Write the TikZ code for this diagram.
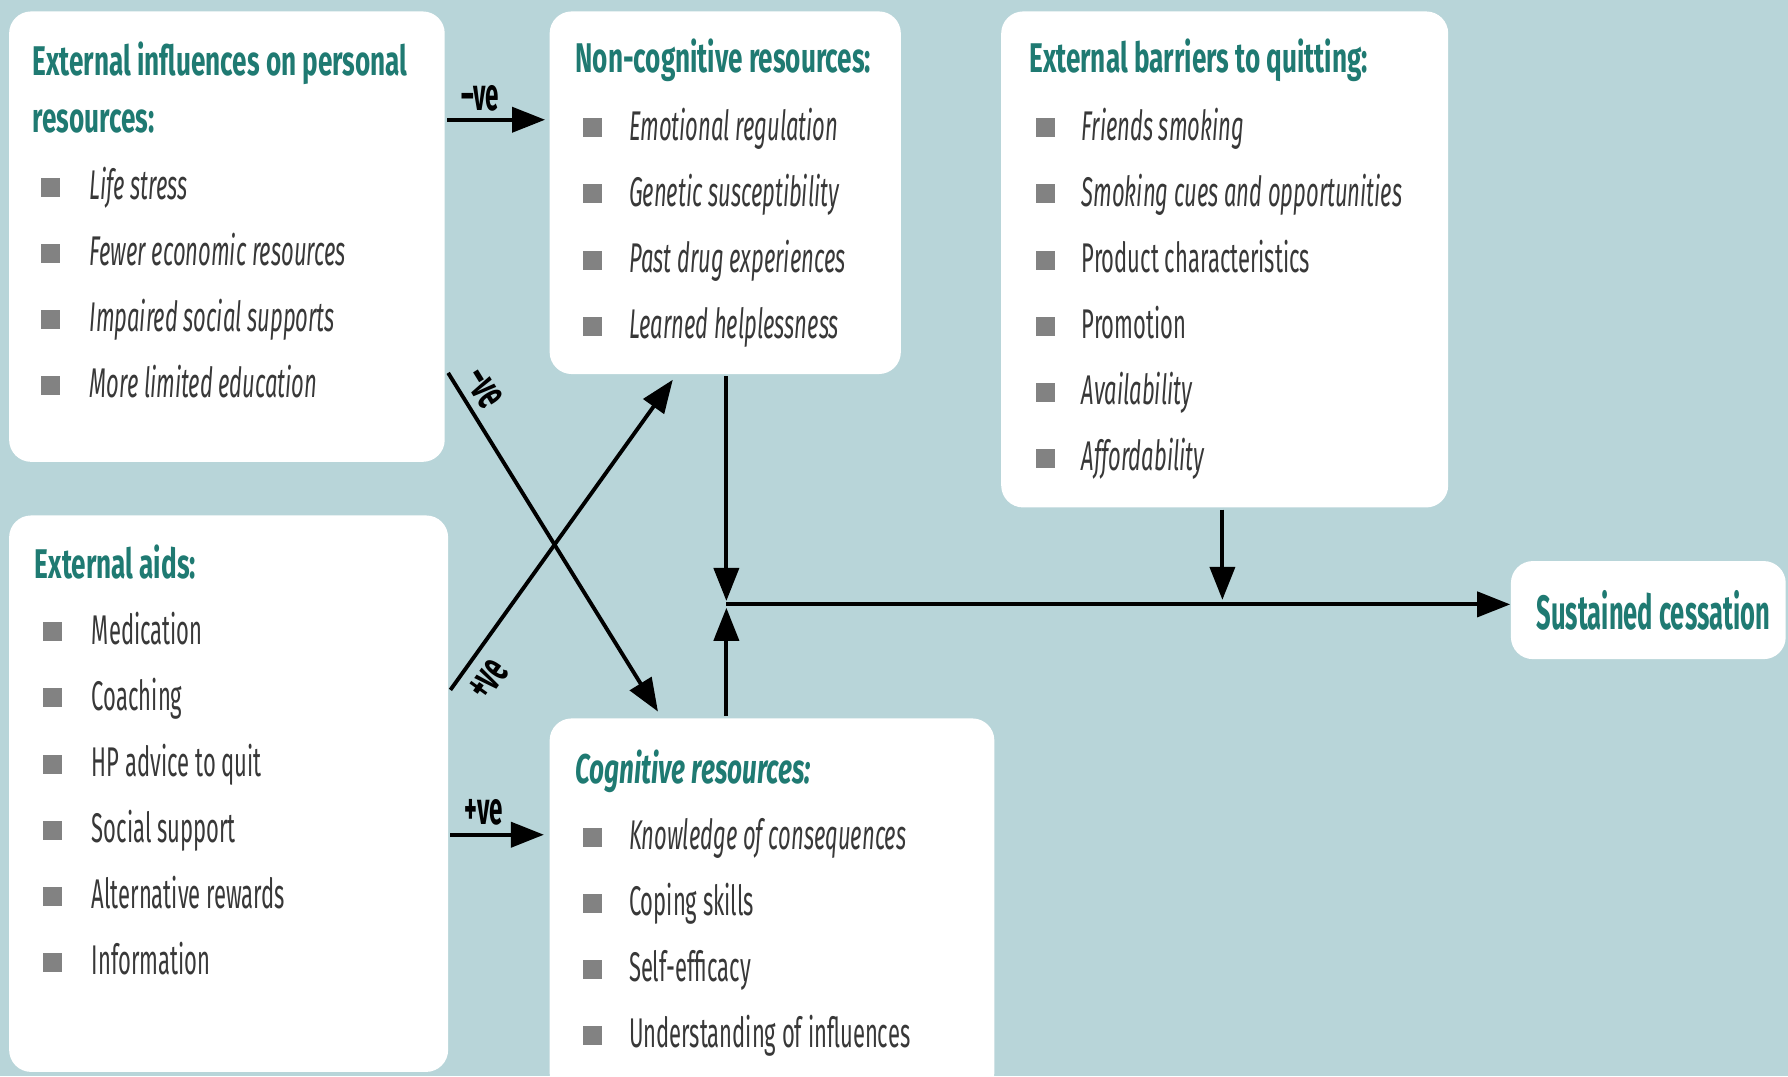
\documentclass[tikz,border=0pt]{standalone}
\usepackage{fontspec}
\setmainfont{Fira Sans}[FakeStretch=0.53]
\newfontfamily\headfont{Fira Sans}[FakeStretch=0.63]
\usetikzlibrary{arrows.meta,fit}
\definecolor{bgblue}{HTML}{B8D5D9}
\definecolor{teal}{HTML}{1F7A72}
\definecolor{bulgray}{HTML}{828282}
\definecolor{txtgray}{HTML}{383838}
\begin{document}
\begin{tikzpicture}[x=0.011403cm,y=-0.011403cm,
  panel/.style={fill=white,rounded corners=0.22cm,inner sep=0pt,draw=none},
  ttl/.style={anchor=base west,inner sep=0pt,text=teal,font=\headfont\fontsize{11.8}{14}\selectfont\bfseries},
  itm/.style={anchor=base west,inner sep=0pt,text=txtgray,font=\fontsize{11.8}{14}\selectfont},
  bul/.style={fill=bulgray,inner sep=0pt,minimum size=0.19cm,draw=none},
  lbl/.style={inner sep=0pt,font=\fontsize{13}{15}\selectfont\bfseries},
  conn/.style={line width=1.1pt,-{Triangle[length=0.33cm,width=0.25cm]}}]

% canvas
\useasboundingbox (0,0) rectangle (1568,944);
\clip (0,0) rectangle (1568,944);
\fill[bgblue] (0,0) rectangle (1568,944);

% panels
\node[panel,fit={(8,10) (390,405)}] (inf) {};
\node[panel,fit={(482,10) (790,328)}] (noncog) {};
\node[panel,fit={(878,10) (1270,445)}] (barr) {};
\node[panel,fit={(8,452) (393,940)}] (aids) {};
\node[panel,fit={(482,630) (872,960)}] (cog) {};
\node[panel,fit={(1325,492) (1566,578)}] (sust) {};

% External influences on personal resources
\node[ttl] (inf-h1) at (28,66) {External influences on personal};
\node[ttl] (inf-h2) at (28,116) {resources:};
\foreach \t [count=\i] in {Life stress,Fewer economic resources,Impaired social supports,More limited education}{
  \node[bul] (inf-b\i) at (44,{164+58*(\i-1)}) {};
  \node[itm,font=\fontsize{11.8}{14}\selectfont\itshape] (inf-t\i) at (78,{175+58*(\i-1)}) {\t};
}

% Non-cognitive resources
\node[ttl] (noncog-h) at (504,64) {Non-cognitive resources:};
\foreach \t [count=\i] in {Emotional regulation,Genetic susceptibility,Past drug experiences,Learned helplessness}{
  \node[bul] (noncog-b\i) at (520,{112+58*(\i-1)}) {};
  \node[itm,font=\fontsize{11.8}{14}\selectfont\itshape] (noncog-t\i) at (551,{123+58*(\i-1)}) {\t};
}

% External barriers to quitting
\node[ttl] (barr-h) at (902,64) {External barriers to quitting:};
\foreach \t [count=\i] in {\itshape Friends smoking,\itshape Smoking cues and opportunities,Product characteristics,Promotion,\itshape Availability,\itshape Affordability}{
  \node[bul] (barr-b\i) at (917,{112+58*(\i-1)}) {};
  \node[itm] (barr-t\i) at (948,{123+58*(\i-1)}) {\t};
}

% External aids
\node[ttl] (aids-h) at (30,507) {External aids:};
\foreach \t [count=\i] in {Medication,Coaching,HP advice to quit,Social support,Alternative rewards,Information}{
  \node[bul] (aids-b\i) at (46,{554+58*(\i-1)}) {};
  \node[itm] (aids-t\i) at (80,{565+58*(\i-1)}) {\t};
}

% Cognitive resources
\node[ttl,font=\headfont\fontsize{11.8}{14}\selectfont\bfseries\itshape] (cog-h) at (504,687) {Cognitive resources:};
\foreach \t [count=\i] in {\itshape Knowledge of consequences,Coping skills,Self-efficacy,Understanding of influences}{
  \node[bul] (cog-b\i) at (520,{734+58*(\i-1)}) {};
  \node[itm] (cog-t\i) at (551,{745+58*(\i-1)}) {\t};
}

% Outcome
\node[text=teal,inner sep=0pt,font=\fontsize{13.7}{16}\selectfont\bfseries] (sust-t) at ([xshift=0.05cm]sust.center) {Sustained cessation};

% connector end points
\coordinate (negS) at (392,105);
\coordinate (negE) at (478,105);
\coordinate (posS) at (395,732);
\coordinate (posE) at (477,732);
\coordinate (dnS) at (393,327);
\coordinate (dnE) at (577,624);
\coordinate (upS) at (395,605);
\coordinate (upE) at (590,333);
\coordinate (J) at (637,530);
\coordinate (Jt) at (637,527);
\coordinate (Jb) at (637,533);
\coordinate (ncB) at (637,330);
\coordinate (cgT) at (637,628);
\coordinate (bB) at (1072,447);
\coordinate (bJ) at (1072,526);

% connectors
\draw[conn] (negS) -- node[lbl,above=2pt,pos=0.34] {–ve} (negE);
\draw[conn] (posS) -- node[lbl,above=2pt,pos=0.36] {+ve} (posE);
\draw[conn] (dnS) -- node[lbl,above=2pt,sloped,pos=0.08] {–ve} (dnE);
\draw[conn] (upS) -- node[lbl,below=3pt,sloped,pos=0.08] {+ve} (upE);
\draw[conn] (ncB) -- (Jt);
\draw[conn] (cgT) -- (Jb);
\draw[conn] (J) -- (J -| sust.west);
\draw[conn] (bB) -- (bJ);
\end{tikzpicture}
\end{document}
